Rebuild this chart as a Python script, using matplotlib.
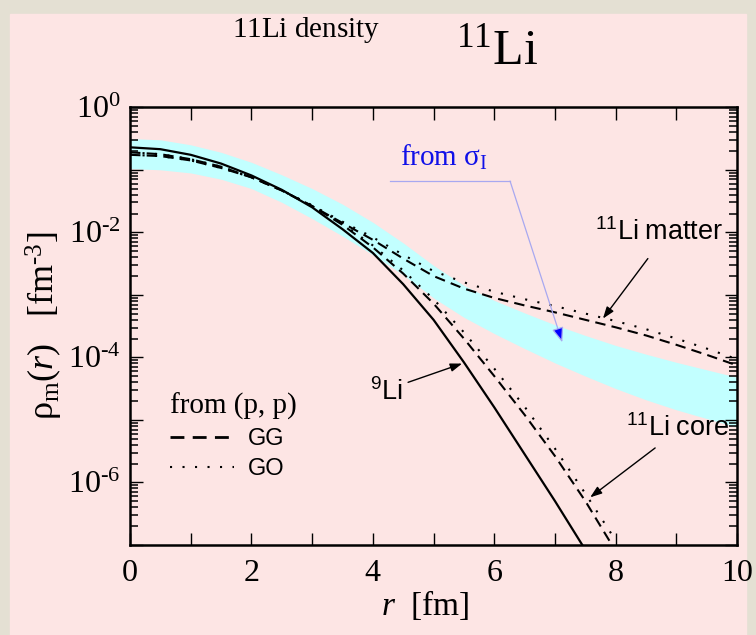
import numpy as np
import matplotlib
matplotlib.use("Agg")
import matplotlib.pyplot as plt
from matplotlib.lines import Line2D
from matplotlib.patches import Rectangle
from matplotlib.ticker import FixedLocator, NullFormatter

plt.rcParams['font.family'] = ['Liberation Serif', 'DejaVu Serif']
plt.rcParams['mathtext.fontset'] = 'custom'
plt.rcParams['mathtext.rm'] = 'Liberation Serif'
plt.rcParams['mathtext.it'] = 'Liberation Serif:italic'
plt.rcParams['mathtext.sf'] = 'Liberation Sans'
plt.rcParams['ytick.minor.visible'] = True
plt.rcParams['ytick.minor.size'] = 6
plt.rcParams['ytick.minor.width'] = 1.1
plt.rcParams['ytick.direction'] = 'in'
plt.rcParams['ytick.right'] = True

# ---- data (log10 of density in fm^-3) ----
li9_r = [0, 0.5, 1, 1.5, 2, 2.5, 3, 3.5, 4, 4.5, 5, 5.5, 6, 6.5, 7, 7.5]
li9_log = [-0.64, -0.67, -0.76, -0.90, -1.09, -1.32, -1.60, -1.95, -2.33,
           -2.83, -3.40, -4.08, -4.80, -5.55, -6.30, -7.08]

core_r = [0, 0.5, 1, 1.5, 2, 2.5, 3, 3.5, 4, 4.5, 5, 5.5, 6, 6.5, 7, 7.5, 8]
core_gg_log = [-0.72, -0.75, -0.83, -0.95, -1.12, -1.33, -1.58, -1.88, -2.24,
               -2.66, -3.14, -3.70, -4.30, -4.92, -5.58, -6.30, -7.10]
core_go_log = [-0.72, -0.75, -0.83, -0.95, -1.12, -1.33, -1.57, -1.86, -2.21,
               -2.61, -3.07, -3.60, -4.18, -4.79, -5.46, -6.18, -6.93]

matter_r = [0, 0.5, 1, 1.5, 2, 2.5, 3, 3.5, 4, 4.5, 5, 5.5, 6, 6.5, 7, 7.5,
            8, 8.5, 9, 9.5, 10]
matter_gg_log = [-0.76, -0.78, -0.85, -0.97, -1.12, -1.33, -1.58, -1.85, -2.12,
                 -2.42, -2.70, -2.90, -3.05, -3.17, -3.28, -3.40, -3.52, -3.65,
                 -3.80, -3.96, -4.13]
matter_go_log = [-0.76, -0.78, -0.85, -0.97, -1.12, -1.33, -1.57, -1.83, -2.08,
                 -2.36, -2.62, -2.80, -2.95, -3.07, -3.18, -3.30, -3.42, -3.55,
                 -3.70, -3.86, -4.03]

band_r = matter_r
band_hi_log = [-0.50, -0.52, -0.60, -0.72, -0.88, -1.08, -1.30, -1.55, -1.84,
               -2.17, -2.53, -2.85, -3.09, -3.29, -3.48, -3.65, -3.81, -3.95,
               -4.08, -4.20, -4.32]
band_lo_log = [-0.98, -1.00, -1.05, -1.15, -1.30, -1.52, -1.78, -2.06, -2.36,
               -2.68, -3.05, -3.36, -3.62, -3.86, -4.09, -4.30, -4.50, -4.68,
               -4.84, -4.98, -5.12]

x_ticks = [0, 2, 4, 6, 8, 10]
y_decades = list(range(-7, 1))
y_label_exps = [0, -2, -4, -6]

pink = '#fde5e4'
cyan = '#c2ffff'

fig = plt.figure(figsize=(7.56, 6.35), dpi=100)
fig.patch.set_facecolor('#e4e0d3')
fig.add_artist(Rectangle((10 / 756, 0), 736 / 756, 621 / 635,
                         transform=fig.transFigure, color=pink, zorder=-1))

ax = fig.add_axes([0.172, 0.142, 0.803, 0.689])
ax.set_facecolor(pink)
ax.set_yscale('log')
ax.set_xlim(0, 10)
ax.set_ylim(1e-7, 1)

p = lambda v: 10 ** np.asarray(v)

ax.fill_between(band_r, p(band_lo_log), p(band_hi_log), color=cyan, lw=0)

dash = (0, (5, 3))
dot = (0, (1, 5))
ax.plot(li9_r, p(li9_log), color='black', lw=1.6)
ax.plot(core_r, p(core_gg_log), color='black', lw=1.5, ls=dash)
ax.plot(core_r, p(core_go_log), color='black', lw=1.5, ls=dot)
ax.plot(matter_r, p(matter_gg_log), color='black', lw=1.5, ls=dash)
ax.plot(matter_r, p(matter_go_log), color='black', lw=1.5, ls=dot)

for s in ax.spines.values():
    s.set_linewidth(1.8)

# ticks
def ylab(e):
    if e not in y_label_exps:
        return ''
    if e == 0:
        return r'$\mathrm{10^{0}}$'
    return r'$\mathrm{10^{\text{-}%d}}$' % -e

ax.xaxis.set_major_locator(FixedLocator(x_ticks))
ax.xaxis.set_minor_locator(FixedLocator(np.arange(1, 10, 2)))
ax.set_xticklabels([str(t) for t in x_ticks])
ax.yaxis.set_major_locator(FixedLocator([10.0 ** e for e in y_decades]))
ax.yaxis.set_minor_locator(FixedLocator(
    [m * 10.0 ** e for e in y_decades[:-1] for m in range(2, 10)]))
ax.yaxis.set_minor_formatter(NullFormatter())
ax.set_yticklabels([ylab(e) for e in y_decades])

ax.tick_params(axis='x', which='both', direction='in', top=True, bottom=True,
               length=9, width=1.0)
ax.tick_params(axis='x', which='major', labelsize=23, pad=10)
ax.tick_params(axis='y', which='major', direction='in', left=True, right=True,
               length=9, width=1.0, labelsize=23, pad=7)
ax.tick_params(axis='y', which='minor', direction='in', left=True, right=True,
               length=6, width=1.1)

ax.set_xlabel(r'$\mathit{r}\ \ \mathrm{[fm]}$', fontsize=24, labelpad=0)
ax.xaxis.label.set_x(0.485)
ax.set_ylabel(r'$\mathrm{\rho_m(}\mathit{r}\mathrm{)\ \ \ [fm}^{\text{-}3}\mathrm{]}$',
              fontsize=26, labelpad=2)

# titles
fig.text(306 / 756, 1 - 30 / 635, r'$\mathrm{11Li\ density}$', fontsize=21,
         ha='center', va='center')
fig.text(497 / 756, 1 - 52 / 635, r'$\mathrm{^{11}Li}$', fontsize=36,
         ha='center', va='center')

# from sigma_I annotation
blue_line = '#a8a8f0'
ax.text(4.45, p(-0.80), r'from $\mathrm{\sigma_I}$', color='#1010e8',
        fontsize=21, ha='left', va='center')
ax.plot([4.28, 6.26], p([-1.18, -1.18]), color=blue_line, lw=0.9)
ax.annotate('', xy=(7.12, p(-3.76)), xytext=(6.26, p(-1.18)),
            arrowprops=dict(arrowstyle='-|>,head_length=0.9,head_width=0.35',
                            fc='#0000ff', ec=blue_line, lw=0.9,
                            shrinkA=0, shrinkB=0))

# curve labels
arrow_kw = dict(arrowstyle='-|>,head_length=0.7,head_width=0.25',
                color='black', lw=1.0, shrinkA=0, shrinkB=0)
ax.text(9.77, p(-2.0), r'$\mathsf{^{11}Li\ matter}$', fontsize=19.5,
        ha='right', va='center')
ax.annotate('', xy=(7.79, p(-3.38)), xytext=(8.53, p(-2.42)), arrowprops=arrow_kw)

ax.text(4.5, p(-4.55), r'$\mathsf{^9Li}$', fontsize=19.5, ha='right', va='center')
ax.annotate('', xy=(5.47, p(-4.10)), xytext=(4.58, p(-4.40)), arrowprops=arrow_kw)

ax.text(9.88, p(-5.14), r'$\mathsf{^{11}Li\ core}$', fontsize=19.5,
        ha='right', va='center')
ax.annotate('', xy=(7.58, p(-6.24)), xytext=(8.65, p(-5.45)), arrowprops=arrow_kw)

# legend
handles = [Line2D([], [], color='black', lw=2, ls=dash),
           Line2D([], [], color='black', lw=1.5, ls=dot)]
leg = ax.legend(handles, ['GG', 'GO'], title='from (p, p)', loc='upper left',
                bbox_to_anchor=(0.05, 0.37), frameon=False, handlelength=2.7,
                prop={'family': 'Liberation Sans', 'size': 17},
                title_fontproperties={'family': 'Liberation Serif', 'size': 21},
                alignment='left', labelspacing=0.35, handletextpad=0.6,
                borderaxespad=0)

fig.savefig('out.png', dpi=100, facecolor=fig.get_facecolor())
